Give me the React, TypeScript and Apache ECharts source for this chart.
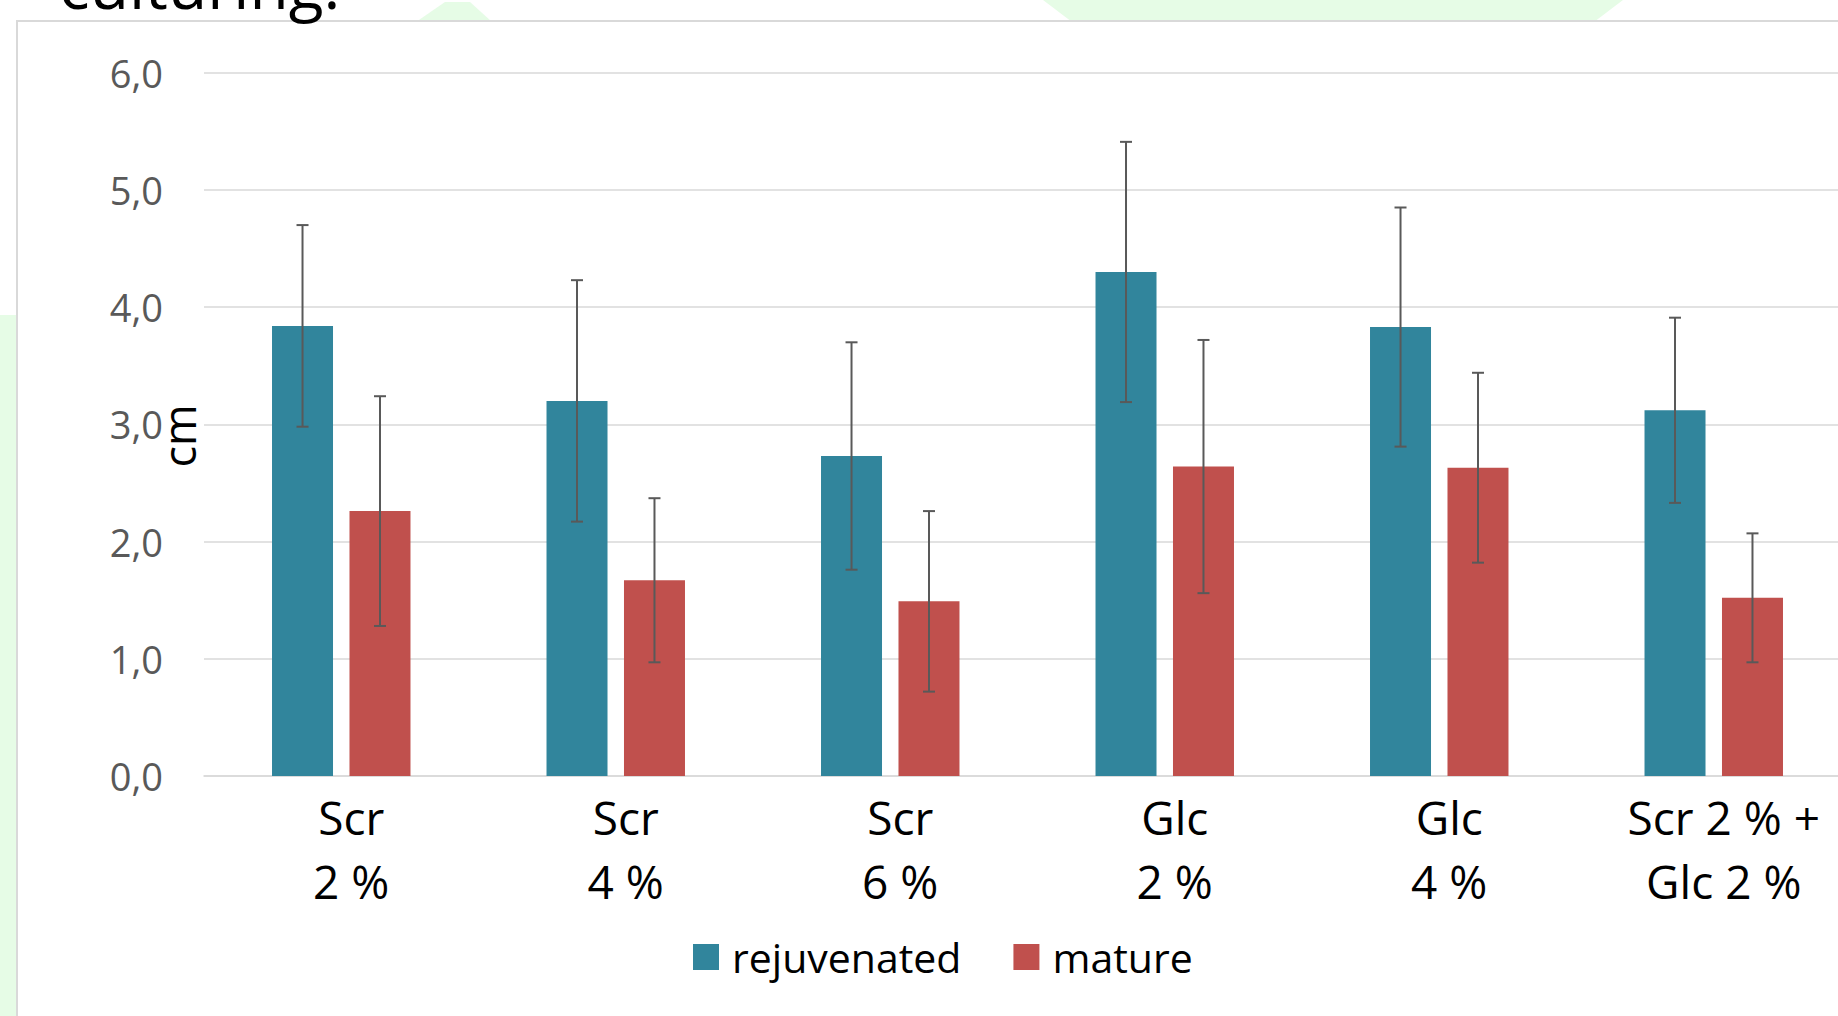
import React, { useEffect, useRef } from "react";
import * as echarts from "echarts";

const categories = ["Scr\n2 %", "Scr\n4 %", "Scr\n6 %", "Glc\n2 %", "Glc\n4 %", "Scr 2 % +\nGlc 2 %"];
const seriesNames = ["rejuvenated", "mature"];
const rejuvenatedMean = [3.84, 3.2, 2.73, 4.3, 3.83, 3.12];
const rejuvenatedErr = [0.86, 1.03, 0.97, 1.11, 1.02, 0.79];
const matureMean = [2.26, 1.67, 1.49, 2.64, 2.63, 1.52];
const matureErr = [0.98, 0.7, 0.77, 1.08, 0.81, 0.55];
const yTicks = { min: 0, max: 6, interval: 1 };
const headingText = "culturing:";
const yAxisTitle = "cm";

const FONT = "'Open Sans', 'Noto Sans', sans-serif";
const BLUE = "#31859C";
const RED = "#C0504D";
const BAR_W = 61;
const GAP_RATIO = 0.27;
const OFFSET = (BAR_W + BAR_W * GAP_RATIO) / 2;

function errorSeries(name: string, means: number[], errs: number[], dir: number) {
  const data = means.map((m, i) => [i, m - errs[i], m + errs[i]]);
  return {
    type: "custom",
    name: name + "-err",
    z: 5,
    silent: true,
    encode: { x: 0, y: [1, 2] },
    data,
    renderItem: (params: any, api: any) => {
      const idx = api.value(0);
      const lo = api.coord([idx, api.value(1)]);
      const hi = api.coord([idx, api.value(2)]);
      const x = lo[0] + dir * OFFSET;
      const cap = 6;
      const style = { stroke: "#595959", lineWidth: 2 };
      return {
        type: "group",
        children: [
          { type: "line", shape: { x1: x, y1: lo[1], x2: x, y2: hi[1] }, style },
          { type: "line", shape: { x1: x - cap, y1: hi[1], x2: x + cap, y2: hi[1] }, style },
          { type: "line", shape: { x1: x - cap, y1: lo[1], x2: x + cap, y2: lo[1] }, style },
        ],
      };
    },
  };
}

export default function App() {
  const ref = useRef<HTMLDivElement>(null);
  useEffect(() => {
    document.body.style.margin = "0";
    document.body.style.overflow = "hidden";
    const chart = echarts.init(ref.current!, null, { renderer: "svg" });
    chart.setOption({
      animation: false,
      backgroundColor: "#ffffff",
      textStyle: { fontFamily: FONT },
      graphic: [
        { type: "polygon", z: -10, shape: { points: [[0, 315], [16, 315], [16, 1016], [0, 1016]] }, style: { fill: "#E6FCE6" } },
        { type: "polygon", z: -10, shape: { points: [[416, 22], [445, 2], [470, 2], [492, 22]] }, style: { fill: "#E6FCE6" } },
        { type: "polygon", z: -10, shape: { points: [[1043, 0], [1623, 0], [1594, 22], [1072, 22]] }, style: { fill: "#E6FCE6" } },
        { type: "rect", z: -9, shape: { x: 17, y: 21, width: 1900, height: 1100 }, style: { fill: "#ffffff", stroke: "#D9D9D9", lineWidth: 2 } },
        { type: "text", z: 10, x: 59, y: -16, style: { text: headingText, fontSize: 64, fontFamily: FONT, fill: "#000", align: "left", verticalAlign: "middle" } },
        { type: "text", z: 10, x: 178, y: 436, rotation: Math.PI / 2, style: { text: yAxisTitle, fontSize: 45, fontFamily: FONT, fill: "#000", align: "center", verticalAlign: "middle" } },
      ],
      grid: { left: 204, top: 72.7, right: 0, bottom: 240, containLabel: false },
      legend: {
        left: 688,
        top: 927,
        itemWidth: 26,
        itemHeight: 26,
        itemGap: 52,
        icon: "rect",
        data: seriesNames,
        textStyle: { fontSize: 41, fontFamily: FONT, color: "#000", padding: [0, 0, 0, 8], lineHeight: 50 },
      },
      xAxis: {
        type: "category",
        data: categories,
        axisTick: { show: false },
        axisLine: { lineStyle: { color: "#D9D9D9", width: 1.6 } },
        axisLabel: { interval: 0, fontSize: 46, lineHeight: 64, color: "#000", fontFamily: FONT, margin: 9, padding: [0, 0, 0, 20] },
      },
      yAxis: {
        type: "value",
        min: yTicks.min,
        max: yTicks.max,
        interval: yTicks.interval,
        axisLine: { show: false },
        axisTick: { show: false },
        splitLine: { lineStyle: { color: "#D9D9D9", width: 1.6 } },
        axisLabel: {
          fontSize: 38,
          color: "#595959",
          fontFamily: FONT,
          margin: 41,
          formatter: (v: number) => v.toFixed(1).replace(".", ","),
        },
      },
      series: [
        { type: "bar", name: seriesNames[0], data: rejuvenatedMean, barWidth: BAR_W, barGap: GAP_RATIO * 100 + "%", itemStyle: { color: BLUE } },
        { type: "bar", name: seriesNames[1], data: matureMean, barWidth: BAR_W, barGap: GAP_RATIO * 100 + "%", itemStyle: { color: RED } },
        errorSeries(seriesNames[0], rejuvenatedMean, rejuvenatedErr, -1),
        errorSeries(seriesNames[1], matureMean, matureErr, 1),
      ],
    });
    return () => chart.dispose();
  }, []);
  return <div ref={ref} style={{ position: "fixed", left: 0, top: 0, width: 1851, height: 1016 }} />;
}
